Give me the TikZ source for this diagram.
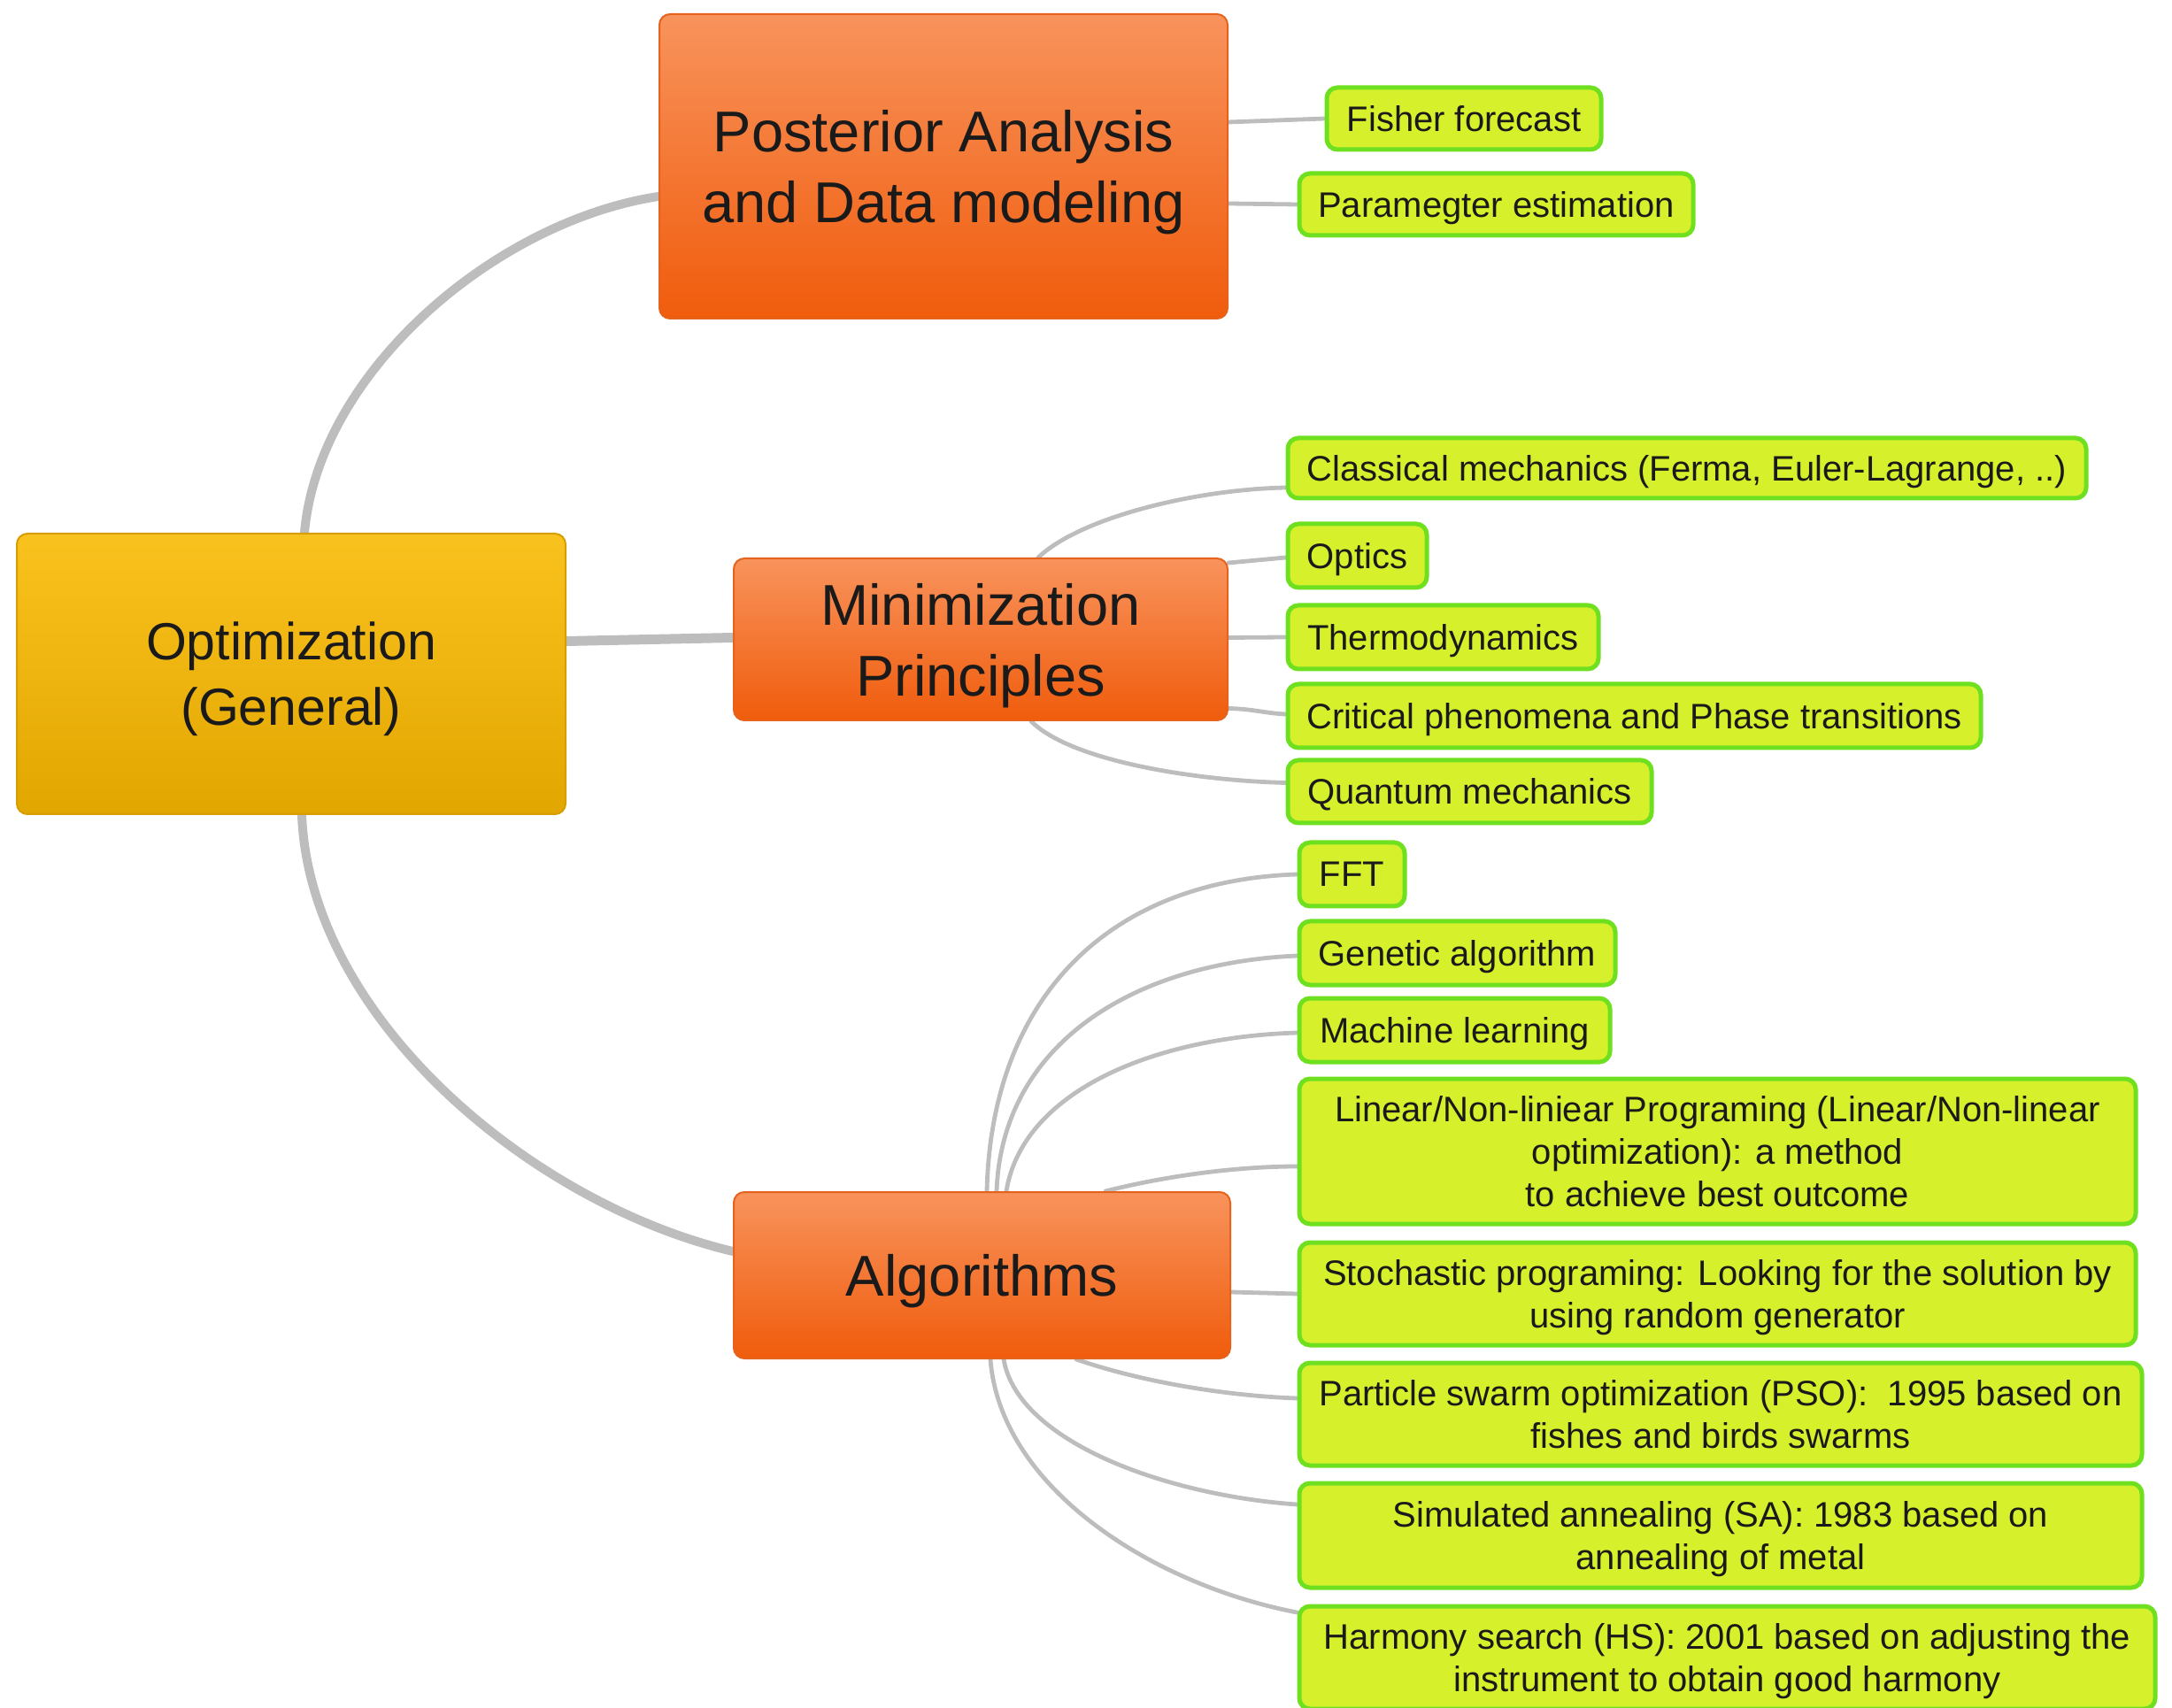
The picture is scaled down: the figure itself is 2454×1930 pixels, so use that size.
\documentclass[tikz,border=0pt]{standalone}
\usepackage{fontspec}
\setmainfont{Liberation Sans}
\usetikzlibrary{calc}
\pgfdeclarelayer{background}
\pgfsetlayers{background,main}
\definecolor{opttop}{HTML}{FAC21E}
\definecolor{optbot}{HTML}{E2A600}
\definecolor{optborder}{HTML}{D69E00}
\definecolor{ortop}{HTML}{F8935C}
\definecolor{orbot}{HTML}{F05C0C}
\definecolor{orborder}{HTML}{E5631C}
\definecolor{leaffill}{HTML}{D6F02C}
\definecolor{leafborder}{HTML}{6EE020}
\definecolor{linkgray}{HTML}{BDBDBD}
\definecolor{txtcol}{HTML}{1A1A1A}
\newcommand\bigtxt{\fontsize{32.5pt}{40pt}\selectfont}
\newcommand\opttxt{\fontsize{29.5pt}{37pt}\selectfont}
\newcommand\leaftxt{\fontsize{20pt}{24pt}\selectfont}
\tikzset{
  rootbox/.style={draw=optborder, line width=1pt, top color=opttop, bottom color=optbot,
    rounded corners=6pt, align=center, font=\opttxt, text=txtcol, inner sep=0pt, text depth=0pt},
  branchbox/.style={draw=orborder, line width=1pt, top color=ortop, bottom color=orbot,
    rounded corners=6pt, align=center, font=\bigtxt, text=txtcol, inner sep=0pt, text depth=0pt},
  leafbox/.style={draw=leafborder, line width=2.5pt, fill=leaffill,
    rounded corners=6pt, align=center, font=\leaftxt, text=txtcol, inner sep=0pt, text depth=0pt},
  mainlink/.style={draw=linkgray, line width=5pt, line cap=round},
  leaflink/.style={draw=linkgray, line width=2.4pt, line cap=round},
}
\begin{document}
\begin{tikzpicture}[x=0.5pt,y=-0.5pt]
\useasboundingbox (0,0) rectangle (2454,1930);

% main nodes
\node[rootbox, minimum width=310pt, minimum height=158.5pt] (opt) at (329,761.5) {Optimization\\(General)};
\node[branchbox, minimum width=321pt, minimum height=172pt] (post) at (1066,188) {Posterior Analysis\\and Data modeling};
\node[branchbox, minimum width=279pt, minimum height=91.5pt] (min) at (1108,722.5) {Minimization\\Principles};
\node[branchbox, minimum width=280.5pt, minimum height=94pt] (alg) at (1109.5,1441) {Algorithms};

% leaves
\node[leafbox, minimum width=155pt, minimum height=35pt] (fisher) at (1654,134) {Fisher forecast};
\node[leafbox, minimum width=222.5pt, minimum height=35pt] (param) at (1690.5,231) {Paramegter estimation};
\node[leafbox, minimum width=451pt, minimum height=34pt] (classical) at (1906,529) {Classical mechanics (Ferma, Euler-Lagrange, ..)};
\node[leafbox, minimum width=78.5pt, minimum height=36pt] (optics) at (1533.5,628) {Optics};
\node[leafbox, minimum width=175.5pt, minimum height=36pt] (thermo) at (1630.5,720) {Thermodynamics};
\node[leafbox, minimum width=391.5pt, minimum height=36pt] (critical) at (1846.5,809) {Critical phenomena and Phase transitions};
\node[leafbox, minimum width=205.5pt, minimum height=35.5pt] (quantum) at (1660.5,894.5) {Quantum mechanics};
\node[leafbox, minimum width=59.5pt, minimum height=36pt] (fft) at (1527.5,988) {FFT};
\node[leafbox, minimum width=178.5pt, minimum height=36pt] (genetic) at (1646.5,1077) {Genetic algorithm};
\node[leafbox, minimum width=175.5pt, minimum height=36pt] (machine) at (1643.5,1164) {Machine learning};
\node[leafbox, minimum width=472.5pt, minimum height=82pt] (linear) at (1940.5,1301) {Linear/Non-liniear Programing (Linear/Non-linear\\optimization): a method\\to achieve best outcome};
\node[leafbox, minimum width=472.5pt, minimum height=58pt] (stoch) at (1940.5,1462) {Stochastic programing: Looking for the solution by\\using random generator};
\node[leafbox, minimum width=476pt, minimum height=58pt] (pso) at (1944,1598) {Particle swarm optimization (PSO):\ \ 1995 based on\\fishes and birds swarms};
\node[leafbox, minimum width=476pt, minimum height=59pt] (sa) at (1944,1735) {Simulated annealing (SA): 1983 based on\\annealing of metal};
\node[leafbox, minimum width=483.5pt, minimum height=58pt] (hs) at (1951.5,1873) {Harmony search (HS): 2001 based on adjusting the\\instrument to obtain good harmony};

\begin{pgfonlayer}{background}
% main connectors
\draw[mainlink] ($(opt.north west)+(326,0)$) .. controls (360,420) and (560,250) .. ($(post.west)+(0,34)$);
\draw[mainlink, line width=5.5pt] ($(opt.east)+(0,-37)$) -- ($(min.west)+(0,-2)$);
\draw[mainlink] ($(opt.south west)+(323,0)$) .. controls (350,1150) and (600,1360) .. ($(alg.west)+(0,-27)$);

% posterior
\draw[leaflink] ($(post.east)+(0,-50)$) -- (fisher.west);
\draw[leaflink] ($(post.east)+(0,42)$) -- (param.west);

% minimization
\draw[leaflink] ($(min.north west)+(345,0)$) .. controls (1220,585) and (1350,553) .. ($(classical.west)+(0,22)$);
\draw[leaflink] ($(min.north east)+(0,6)$) -- ($(optics.west)+(0,2)$);
\draw[leaflink] ($(min.east)+(0,-2)$) -- (thermo.west);
\draw[leaflink] ($(min.east)+(0,78)$) .. controls (1415,801) and (1430,806) .. ($(critical.west)+(0,-2)$);
\draw[leaflink] ($(min.south west)+(337,0)$) .. controls (1210,860) and (1350,882) .. ($(quantum.west)+(0,-10)$);

% algorithms
\draw[leaflink] ($(alg.north west)+(287,0)$) .. controls (1120,1130) and (1250,995) .. (fft.west);
\draw[leaflink] ($(alg.north west)+(298,0)$) .. controls (1132,1180) and (1280,1088) .. ($(genetic.west)+(0,3)$);
\draw[leaflink] ($(alg.north west)+(309,0)$) .. controls (1155,1235) and (1300,1172) .. ($(machine.west)+(0,3)$);
\draw[leaflink] ($(alg.north west)+(421,0)$) .. controls (1320,1328) and (1400,1318) .. ($(linear.west)+(0,17)$);
\draw[leaflink] ($(alg.east)+(0,19)$) -- (stoch.west);
\draw[leaflink] ($(alg.south west)+(388,0)$) .. controls (1300,1565) and (1400,1578) .. ($(pso.west)+(0,-18)$);
\draw[leaflink] ($(alg.south west)+(306,0)$) .. controls (1150,1630) and (1320,1690) .. ($(sa.west)+(0,-35)$);
\draw[leaflink] ($(alg.south west)+(291,0)$) .. controls (1130,1680) and (1300,1790) .. ($(hs.west)+(0,-51)$);
\end{pgfonlayer}
\end{tikzpicture}
\end{document}
